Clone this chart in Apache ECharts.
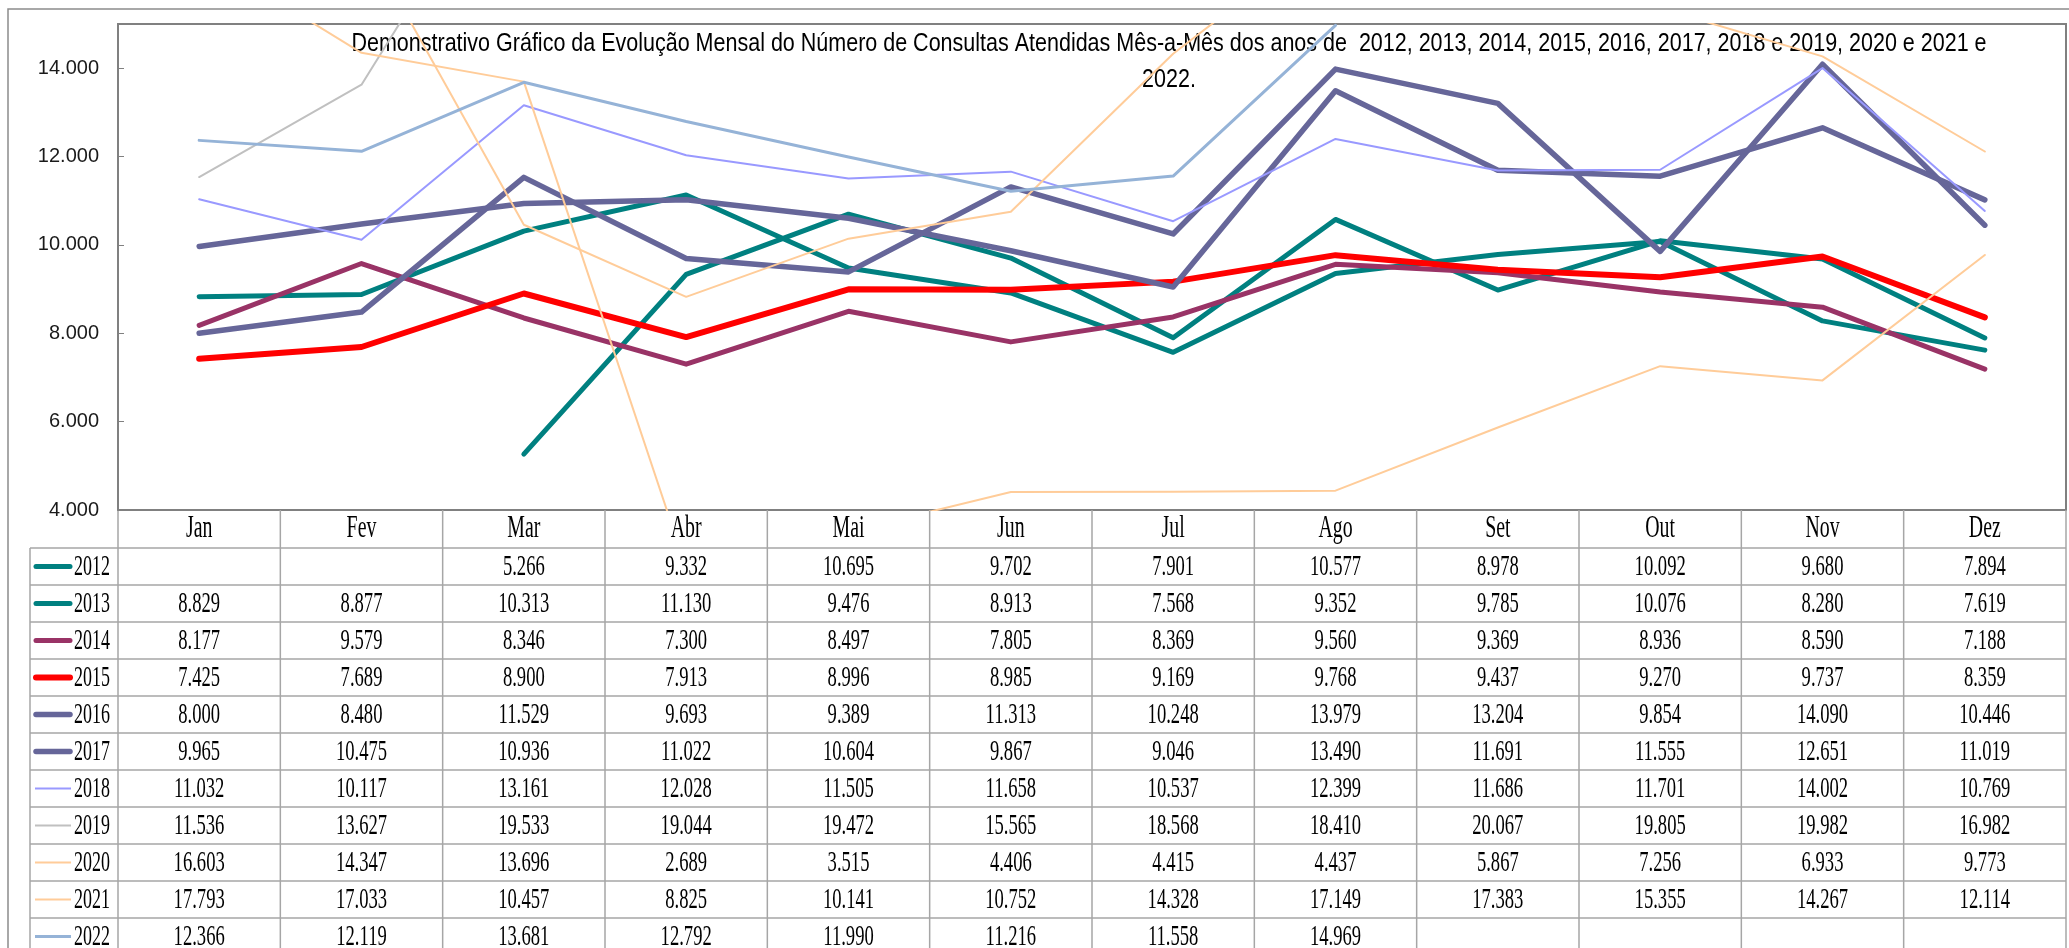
<!DOCTYPE html>
<html>
<head>
<meta charset="utf-8">
<title>Consultas Atendidas</title>
<script src="https://cdn.jsdelivr.net/npm/echarts@6/dist/echarts.min.js"></script>
<style>
  html, body { margin: 0; padding: 0; background: #fff; }
  #chart { width: 2069px; height: 948px; }
</style>
</head>
<body>
<div id="chart"></div>
<script>
const meses = ['Jan', 'Fev', 'Mar', 'Abr', 'Mai', 'Jun', 'Jul', 'Ago', 'Set', 'Out', 'Nov', 'Dez'];
const anos = ['2012', '2013', '2014', '2015', '2016', '2017', '2018', '2019', '2020', '2021', '2022'];

const v2012 = [null, null, 5266, 9332, 10695, 9702, 7901, 10577, 8978, 10092, 9680, 7894];
const v2013 = [8829, 8877, 10313, 11130, 9476, 8913, 7568, 9352, 9785, 10076, 8280, 7619];
const v2014 = [8177, 9579, 8346, 7300, 8497, 7805, 8369, 9560, 9369, 8936, 8590, 7188];
const v2015 = [7425, 7689, 8900, 7913, 8996, 8985, 9169, 9768, 9437, 9270, 9737, 8359];
const v2016 = [8000, 8480, 11529, 9693, 9389, 11313, 10248, 13979, 13204, 9854, 14090, 10446];
const v2017 = [9965, 10475, 10936, 11022, 10604, 9867, 9046, 13490, 11691, 11555, 12651, 11019];
const v2018 = [11032, 10117, 13161, 12028, 11505, 11658, 10537, 12399, 11686, 11701, 14002, 10769];
const v2019 = [11536, 13627, 19533, 19044, 19472, 15565, 18568, 18410, 20067, 19805, 19982, 16982];
const v2020 = [16603, 14347, 13696, 2689, 3515, 4406, 4415, 4437, 5867, 7256, 6933, 9773];
const v2021 = [17793, 17033, 10457, 8825, 10141, 10752, 14328, 17149, 17383, 15355, 14267, 12114];
const v2022 = [12366, 12119, 13681, 12792, 11990, 11216, 11558, 14969, null, null, null, null];

const valores = [v2012, v2013, v2014, v2015, v2016, v2017, v2018, v2019, v2020, v2021, v2022];

// cor e espessura de cada ano
const estilos = [
  { cor: '#008080', larg: 5 },
  { cor: '#008080', larg: 5 },
  { cor: '#993366', larg: 5 },
  { cor: '#ff0000', larg: 6 },
  { cor: '#666699', larg: 5.5 },
  { cor: '#666699', larg: 5.5 },
  { cor: '#9999ff', larg: 2 },
  { cor: '#c0c0c0', larg: 2 },
  { cor: '#ffcc99', larg: 2 },
  { cor: '#ffcc99', larg: 2 },
  { cor: '#95b3d7', larg: 3 }
];

const titulo = [
  'Demonstrativo Gráfico da Evolução Mensal do Número de Consultas Atendidas Mês-a-Mês dos anos de  2012, 2013, 2014, 2015, 2016, 2017, 2018 e 2019, 2020 e 2021 e',
  '2022.'
];

const sans = "'Liberation Sans Narrow', 'Liberation Sans', sans-serif";
const serif = "'Liberation Serif', 'DejaVu Serif', serif";

function fmt(v) {
  if (v == null) return '';
  const mil = Math.floor(v / 1000);
  const resto = String(v % 1000).padStart(3, '0');
  return mil > 0 ? mil + '.' + resto : String(v);
}

const chart = echarts.init(document.getElementById('chart'));

chart.setOption({
  animation: false,
  backgroundColor: '#fff',
  grid: {
    left: 118,
    right: 3,
    top: 24,
    bottom: 438,
    show: true,
    borderColor: '#808080',
    borderWidth: 2,
    backgroundColor: 'transparent'
  },
  xAxis: {
    type: 'category',
    data: meses,
    boundaryGap: true,
    axisLine: { show: false },
    axisTick: { show: false },
    axisLabel: { show: false },
    splitLine: { show: false }
  },
  yAxis: {
    type: 'value',
    min: 4000,
    max: 15000,
    interval: 2000,
    axisLine: { show: true, lineStyle: { color: '#808080', width: 2 } },
    axisTick: { show: true, inside: true, length: 6, lineStyle: { color: '#808080' } },
    splitLine: { show: false },
    axisLabel: {
      showMaxLabel: false,
      margin: 19,
      fontFamily: sans,
      fontSize: 20,
      color: '#1a1a1a',
      formatter: (v) => fmt(v)
    }
  },
  series: anos.map((a, i) => ({
    name: a,
    type: 'line',
    data: valores[i],
    symbol: 'none',
    showSymbol: false,
    connectNulls: false,
    clip: true,
    silent: true,
    lineStyle: { color: estilos[i].cor, width: estilos[i].larg, cap: 'round', join: 'round' },
    itemStyle: { color: estilos[i].cor }
  }))
});

// título e tabela de dados desenhados por cima
function desenhaTabela() {
  const cx = meses.map((m) => chart.convertToPixel({ xAxisIndex: 0 }, m));
  const col = cx[1] - cx[0];
  const esq = cx[0] - col / 2;
  const dir = cx[cx.length - 1] + col / 2;
  const base = chart.convertToPixel({ yAxisIndex: 0 }, 4000);
  const topo = base + 38;
  const alt = 37;
  const chave = 30;
  const fim = 948;
  const cinza = '#a6a6a6';
  const els = [];

  const texto = (x, y, t, fonte, alinh, sx) => ({
    type: 'text',
    x: x,
    y: y,
    scaleX: sx,
    silent: true,
    style: {
      text: t,
      x: 0,
      y: 0,
      font: fonte,
      fill: '#000',
      align: alinh,
      verticalAlign: 'middle',
      textAlign: alinh,
      textVerticalAlign: 'middle'
    }
  });
  const linha = (x1, y1, x2, y2, cor, w) => ({
    type: 'line',
    silent: true,
    shape: { x1: x1, y1: y1, x2: x2, y2: y2 },
    style: { stroke: cor, lineWidth: w }
  });

  // moldura externa
  els.push({
    type: 'rect',
    silent: true,
    shape: { x: 8, y: 9, width: 2200, height: 1000 },
    style: { fill: null, stroke: '#8c8c8c', lineWidth: 1.5 }
  });

  // título em duas linhas, centrado
  els.push(texto(1169, 44, titulo[0], '25px ' + sans, 'center', 0.86));
  els.push(texto(1169, 80, titulo[1], '25px ' + sans, 'center', 0.86));

  // grade
  for (let k = 0; k <= anos.length; k++) {
    els.push(linha(chave, topo + k * alt, dir, topo + k * alt, cinza, 1.5));
  }
  els.push(linha(chave, topo, chave, fim, cinza, 1.5));
  for (let j = 0; j <= meses.length; j++) {
    els.push(linha(esq + j * col, base, esq + j * col, fim, cinza, 1.5));
  }

  // cabeçalho dos meses
  meses.forEach((m, i) => {
    els.push(texto(cx[i], base + 19, m, '32px ' + serif, 'center', 0.62));
  });

  // linhas de cada ano
  anos.forEach((a, r) => {
    const yc = topo + r * alt + alt / 2;
    const e = estilos[r];
    const grossa = e.larg >= 5;
    els.push({
      type: 'line',
      silent: true,
      shape: { x1: grossa ? 36 : 35, y1: yc, x2: grossa ? 70 : 71, y2: yc },
      style: { stroke: e.cor, lineWidth: e.larg, lineCap: grossa ? 'round' : 'butt' }
    });
    els.push(texto(74, yc + 1, a, '30px ' + serif, 'left', 0.6));
    valores[r].forEach((v, i) => {
      if (v != null) els.push(texto(cx[i], yc + 1, fmt(v), '30px ' + serif, 'center', 0.62));
    });
  });

  chart.setOption({ graphic: { elements: els } });
}

desenhaTabela();
</script>
</body>
</html>
